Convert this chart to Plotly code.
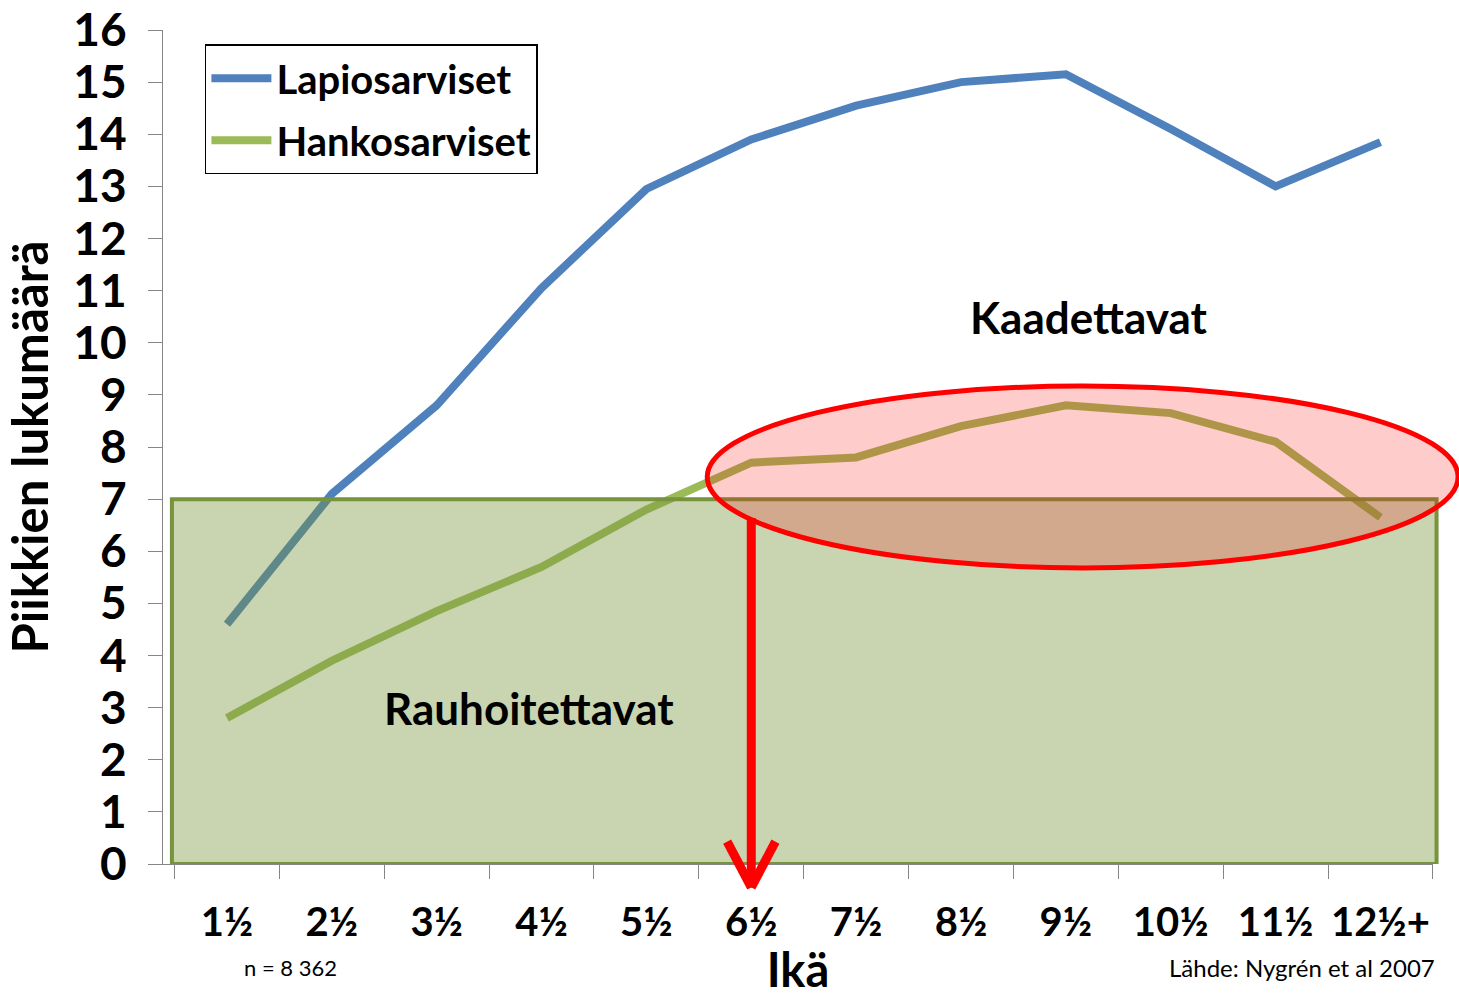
import plotly.graph_objects as go

# ---- data ----
age_labels = ["1½", "2½", "3½", "4½", "5½", "6½", "7½", "8½", "9½", "10½", "11½", "12½+"]
lapiosarviset = [4.6, 7.1, 8.8, 11.05, 12.95, 13.9, 14.55, 15.0, 15.15, 14.1, 13.0, 13.85]
hankosarviset = [2.8, 3.9, 4.85, 5.7, 6.8, 7.7, 7.8, 8.4, 8.8, 8.65, 8.1, 6.65]
y_ticks = list(range(0, 17))

# threshold zone and highlight (data units: category index / points)
protect_limit = 7
protect_x = (-0.525, 11.535)
ellipse_x = (4.58, 11.74)
ellipse_y = (5.68, 9.17)
arrow_cat = 5          # 6½
arrow_top = 6.64
arrow_tip = -0.45
arrow_head_dx = 0.23
arrow_head_dy = 0.88

Y_MIN, Y_MAX = 0, 16
X_MIN, X_MAX = -0.61, 11.501
FONT = "Lato"

def y_paper(v):
    return (v - Y_MIN) / (Y_MAX - Y_MIN)

def x_paper(v):
    return (v - X_MIN) / (X_MAX - X_MIN)

fig = go.Figure()
fig.add_trace(go.Scatter(x=age_labels, y=lapiosarviset, mode="lines", name="Lapiosarviset",
                         line=dict(color="#4F81BD", width=8), legendgroup="a"))
fig.add_trace(go.Scatter(x=age_labels, y=hankosarviset, mode="lines", name="Hankosarviset",
                         line=dict(color="#9BBB59", width=8), legendgroup="b"))

red_line = dict(color="#FF0000", width=9)
shapes = [
    dict(type="rect", xref="paper", yref="y", x0=x_paper(protect_x[0]), x1=x_paper(protect_x[1]),
         y0=0, y1=protect_limit,
         fillcolor="rgba(119,147,60,0.4)", line=dict(color="#77933C", width=4), layer="above"),
    dict(type="circle", xref="paper", yref="y", x0=x_paper(ellipse_x[0]), x1=x_paper(ellipse_x[1]),
         y0=ellipse_y[0], y1=ellipse_y[1],
         fillcolor="rgba(255,0,0,0.2)", line=dict(color="#FF0000", width=5), layer="above"),
    dict(type="line", xref="x", yref="paper", x0=arrow_cat, x1=arrow_cat,
         y0=y_paper(arrow_top), y1=y_paper(arrow_tip), line=red_line, layer="above"),
    dict(type="line", xref="x", yref="paper", x0=arrow_cat - arrow_head_dx, x1=arrow_cat,
         y0=y_paper(arrow_tip + arrow_head_dy), y1=y_paper(arrow_tip), line=red_line, layer="above"),
    dict(type="line", xref="x", yref="paper", x0=arrow_cat + arrow_head_dx, x1=arrow_cat,
         y0=y_paper(arrow_tip + arrow_head_dy), y1=y_paper(arrow_tip), line=red_line, layer="above"),
]

annotations = [
    dict(text="Kaadettavat", x=8.22, y=10.5, xref="x", yref="y", showarrow=False,
         font=dict(family=FONT, size=44, color="black", weight="bold")),
    dict(text="Rauhoitettavat", x=2.88, y=3.0, xref="x", yref="y", showarrow=False,
         font=dict(family=FONT, size=44, color="black", weight="bold")),
    dict(text="n = 8 362", x=(242 - 163.5) / 1269, y=-0.124, xref="paper", yref="paper", xanchor="left",
         yanchor="middle", showarrow=False, font=dict(family=FONT, size=22, color="black")),
    dict(text="Lähde: Nygrén et al 2007", x=1.003, y=-0.124, xref="paper", yref="paper", xanchor="right",
         yanchor="middle", showarrow=False, font=dict(family=FONT, size=24, color="black")),
]

fig.update_layout(
    width=1459, height=997,
    margin=dict(l=163, r=26, t=30, b=133, autoexpand=False),
    paper_bgcolor="white", plot_bgcolor="white",
    font=dict(family=FONT, color="black"),
    shapes=shapes, annotations=annotations,
    showlegend=True,
    legend=dict(x=0.033, y=0.983, xanchor="left", yanchor="top",
                bordercolor="black", borderwidth=1.5, bgcolor="white",
                font=dict(family=FONT, size=40, color="black", weight="bold"),
                itemwidth=60, traceorder="grouped", tracegroupgap=7),
    xaxis=dict(type="category", range=[X_MIN, X_MAX], tickson="boundaries", automargin=False,
               ticks="outside", ticklen=14, tickcolor="#868686", tickwidth=1.3, tickangle=0,
               showline=True, linecolor="#868686", linewidth=1.3, showgrid=False, zeroline=False,
               tickfont=dict(family=FONT, size=40, color="black", weight="bold"),
               ticklabelstandoff=23,
               title=dict(text="Ikä", font=dict(family=FONT, size=47, color="black", weight="bold"), standoff=19)),
    yaxis=dict(range=[Y_MIN, Y_MAX], tickvals=y_ticks, ticks="outside", ticklen=14, automargin=False,
               tickcolor="#868686", tickwidth=1.3, showline=True, linecolor="#868686", linewidth=1.3,
               showgrid=False, zeroline=False,
               tickfont=dict(family=FONT, size=46, color="black", weight="bold"),
               ticklabelstandoff=12,
               title=dict(text="Piikkien lukumäärä", font=dict(family=FONT, size=49, color="black", weight="bold"),
                          standoff=12)),
)

fig.write_html("out.html", config={"displayModeBar": False},
               post_script="document.body.style.margin='0';document.body.style.overflow='hidden';")
